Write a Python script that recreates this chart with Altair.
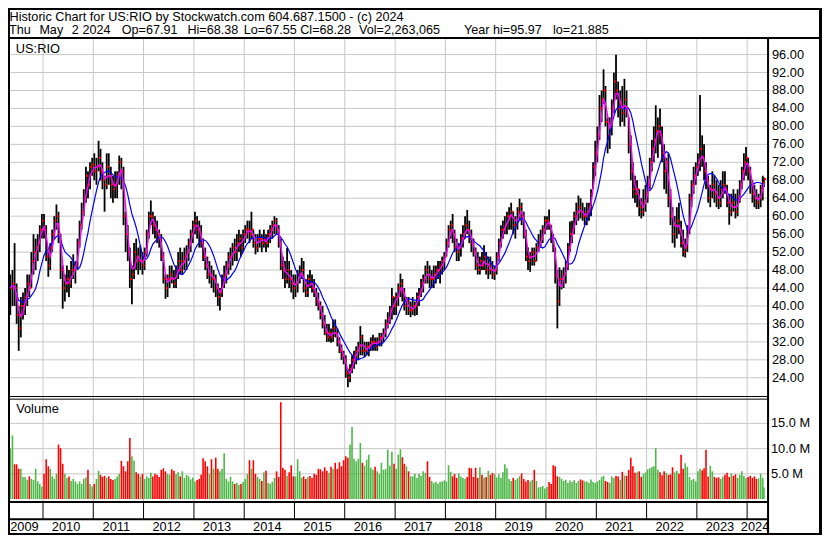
import altair as alt
import pandas as pd

# ---------------- data (semi-monthly bars) ----------------
LOW = [
    # 2009 (May-Dec)
    38, 40, 40, 36, 30, 33, 37, 38, 40, 42, 44, 47, 48, 50, 52, 55,
    # 2010
    55, 50, 46.5, 48, 52, 55, 57, 54, 46, 39.4, 41, 43, 42, 44, 46, 45, 48, 53, 57, 60, 63, 64, 66, 69,
    # 2011
    68, 67, 70, 68, 66, 61, 66, 67, 64, 63, 64, 64, 67, 66, 58, 52, 50, 44, 40.4, 46, 48, 47, 48, 47,
    # 2012
    48, 51, 55, 58, 56, 55, 54, 53, 50, 45, 41.6, 42, 44, 45, 44, 44, 46, 47, 47, 48, 48, 50, 52, 54,
    # 2013
    56, 55, 53, 53, 50, 48, 46, 45, 44, 43, 42, 40, 39, 42, 44, 45, 47, 48, 49, 50, 50, 52, 51, 52,
    # 2014
    54, 55, 54, 55, 53, 51.5, 52, 53, 52, 53, 52, 53, 54, 55, 56, 56, 53, 48, 46, 44, 45, 44, 43, 41.5,
    # 2015
    42, 43, 45, 46, 43, 42, 42, 44, 43, 42, 40, 39, 37, 35, 33.5, 32, 32, 31.8, 32, 33, 31, 29.5, 28, 27,
    # 2016
    24, 21.9, 23, 25, 26, 27, 28, 29, 29, 28.6, 29, 28.8, 30, 30, 30, 30, 31, 31, 32, 33, 35, 36, 37, 38,
    # 2017
    38, 40, 42, 41, 39, 38, 38, 37.5, 38, 37.8, 38, 40, 42, 43, 45, 45, 44, 44, 44, 45, 46, 45, 47, 48,
    # 2018
    51, 53, 55, 54, 52, 50, 50, 51, 53, 55, 56, 54, 52, 51, 48, 47, 47, 48, 48, 47, 46, 47, 46, 45.8,
    # 2019
    47, 50, 53, 55, 56, 56, 57, 57, 56, 55, 57, 59, 58, 55, 50, 48, 47.6, 49, 49, 50, 52, 53, 54, 56,
    # 2020
    57, 57, 54, 52, 45, 35, 40, 43.7, 44, 45, 48, 52, 54, 56, 58, 59, 59.5, 59, 58, 58, 59, 60, 66, 69,
    # 2021
    72, 77, 81, 85, 80, 74, 75, 78, 83, 86, 82, 80, 81, 80, 82, 74, 68, 64, 63, 62, 60, 59.5, 60, 61,
    # 2022
    63, 66, 70, 72, 74, 73, 76, 72, 66, 65, 62, 58, 54, 53, 55, 56, 53, 51, 50.8, 52, 56, 62, 65, 67,
    # 2023
    69, 70, 71, 68, 66, 63, 62, 64, 63, 62, 61.6, 62, 64, 65, 62, 58.1, 60, 61, 59.5, 60, 63, 66, 68, 69,
    # 2024 (Jan - May 2)
    68, 65, 63, 62, 61.6, 61.6, 62, 63.5, 66.5,
]
HIGH = [
    47, 48, 54, 45, 40, 42, 43, 44, 47, 47, 52, 56, 55, 56, 58, 60.5,
    60.5, 58, 53, 54, 57, 60, 62.6, 61, 56, 49, 47, 49, 48, 50, 51.5, 50, 55, 59, 63, 66, 71, 70, 72, 73,
    74, 73, 76.8, 75, 72, 69, 74, 74, 71, 69, 70, 70, 73.5, 73, 71, 61, 58, 53, 49, 54, 55, 53, 53.5, 52,
    53, 57, 61, 63.5, 61, 60, 59, 57, 56, 52, 47, 47, 49, 49, 48, 49, 52, 53, 52, 53, 53.5, 55, 57, 59,
    61, 60, 59, 58, 55, 53, 51, 50, 49, 48, 47, 45, 44, 47, 49, 50, 52, 53, 54, 55, 56, 57, 56, 57,
    58, 59, 59, 61, 57, 56, 56, 57, 56, 57, 56, 57, 58, 59, 60, 59.6, 58, 55, 51, 50, 52.9, 50, 48, 47,
    47, 48, 49, 50.7, 50, 46, 47, 48, 47, 46, 44, 43, 41, 40, 38, 36, 36, 35, 37, 37, 35, 33, 31.4, 30,
    29, 26, 27, 29, 30, 31, 32, 35.5, 33.6, 32, 32, 32, 33, 33.6, 33, 33, 34, 34, 35, 37, 38.6, 40, 44, 42,
    43, 45, 47.2, 46, 44, 42, 42, 41, 42, 41, 43, 44, 46, 47, 49, 50, 49, 48, 49, 49, 50, 50, 51, 52,
    55, 58, 59, 60.5, 57, 55, 54, 56, 58, 60, 61.4, 59, 57, 55, 53, 52, 51, 52, 53.5, 52, 51, 51, 50, 49,
    52, 55, 58, 59, 60, 61, 62, 63, 61, 60, 62, 63.9, 63, 61, 57, 53, 52, 53, 53, 54, 56, 57, 58, 60,
    60, 61.5, 58, 56, 53, 48, 48.6, 48, 48.6, 50, 54, 58.8, 59, 61, 63, 64.6, 64, 63, 62, 63, 63, 66, 72, 76.8,
    80, 87, 88, 92.7, 89, 82, 82, 86, 92, 95.97, 90, 88, 89, 90.6, 88, 82, 78, 72, 69, 68, 66, 64, 66, 67,
    69, 73, 77, 80, 84.7, 82, 84, 80, 76, 73, 74, 66, 62, 60, 62, 63, 59, 57, 55, 58, 65, 68, 71, 72,
    74, 87, 78, 76, 72, 69, 67, 70, 69, 68, 67, 68, 70, 70, 67, 65, 65, 66, 65, 66, 68, 71, 74, 75.4,
    73, 71, 68, 67, 66, 65, 67, 69, 68.6,
]
CLOSE = [
    44, 45, 44, 38, 35, 40, 40, 42, 45, 44, 50, 52, 53, 54, 57, 59,
    57, 51, 49, 53, 56, 59, 60, 56, 48, 44, 45, 46, 45, 48, 48, 49, 54, 58, 61, 64, 69, 67, 71, 71.5,
    70, 71, 73, 70, 68, 67, 71, 69, 67, 66, 67, 69, 72, 70, 60, 56, 52, 46, 47, 52, 51, 50, 50, 49,
    52, 56, 60, 60, 58, 57, 56, 55, 51, 46, 44, 46, 47, 46, 45, 48, 50, 48, 50, 51, 52, 54, 56, 58,
    59, 57, 56, 54, 51, 49, 47, 47, 46, 46, 44, 42, 43, 46, 47, 49, 51, 51, 53, 52, 54, 55, 53, 56,
    57, 57, 56, 57, 54, 53, 55, 55, 54, 55, 54, 56, 57, 58, 59, 57, 54, 49, 48, 46, 48, 46, 45, 44,
    45, 47, 47, 48, 44, 43, 46, 45, 44, 43, 41, 40, 38, 36, 34, 33, 34, 33, 35, 34, 32, 30, 29, 28,
    25, 24, 26, 28, 29, 30, 31, 33, 30, 30, 31, 31, 32, 32, 31, 32, 33, 33, 34, 36, 37, 39, 42, 40,
    42, 44, 45, 43, 40, 41, 39, 39, 40, 40, 42, 43, 45, 46, 48, 47, 46, 46, 47, 48, 48, 49, 50, 51,
    54, 57, 58, 56, 53, 52, 53, 55, 56, 58, 57, 55, 54, 52, 49, 48, 50, 49, 51, 48, 49, 48, 47, 48,
    51, 54, 57, 57, 58, 60, 60, 61, 58, 58, 61, 62, 60, 56, 51, 50, 51, 52, 50, 53, 54, 55, 57, 59,
    59, 58, 55, 53, 47, 41, 46, 46, 47, 49, 53, 56, 57, 60, 61, 62, 61, 60, 60, 61, 62, 65, 71, 74,
    78, 84, 86, 88, 81, 78, 80, 84, 90, 88, 84, 85, 83, 86, 84, 76, 70, 66, 65, 66, 62, 61, 63, 65,
    67, 72, 75, 77, 79, 80, 78, 74, 70, 72, 64, 60, 56, 58, 59, 57, 54, 52, 53, 57, 64, 67, 69, 71,
    72, 75, 73, 70, 68, 64, 66, 67, 65, 64, 63, 66, 67, 66, 63, 61, 63, 62, 61, 64, 67, 70, 72, 73,
    70, 67, 65, 64, 63, 64, 66, 67.5, 68.28,
]
VOLUME_M = [
    10, 12.6, 6.9, 6.9, 6, 6, 4.4, 4.4, 3.8, 4.5, 4, 3.8, 6, 3.5, 3, 2.5,
    5, 7.9, 6.5, 6, 4.5, 4, 5, 10.8, 10.1, 7, 5, 4.2, 4.5, 3.6, 4, 3.5, 3, 3.5, 3, 4, 4.3, 5.8, 3, 2.5,
    3, 4, 5.6, 4.8, 4.4, 4.6, 4.2, 4.5, 4, 3.8, 4, 4.5, 5, 7.6, 6.5, 5.5, 7.5, 12.1, 8.5, 7.6, 5.3, 5, 4.5, 5,
    4, 4.5, 4.2, 5.2, 4.5, 5, 4.8, 4.4, 5.8, 6.1, 5.5, 5, 4.8, 5.9, 5.6, 4.9, 5.3, 4.5, 5.5, 4.2, 4.8, 4.5, 3.9, 4.3,
    3.5, 3.8, 4, 4.8, 8.1, 7.5, 6.5, 5, 7.9, 6, 8.2, 6, 5.5, 6, 9.1, 4, 3.5, 4.4, 3.5, 3, 3.2, 2.8, 3, 3.4,
    4, 5, 7.7, 6, 7.7, 5, 4.4, 4, 3.6, 5.3, 5.6, 3.2, 3, 3.4, 4.2, 5.5, 4.4, 19.2, 6.2, 5.8, 4.6, 5.3, 6.7, 4.5,
    4.5, 7.9, 5.5, 4.2, 4.5, 4, 4.4, 4.6, 4.2, 5, 4.8, 6, 5.9, 5.5, 6.3, 5.6, 5.2, 6.4, 6, 7.2, 6, 7.3, 6.5, 7.7,
    8.5, 8.2, 10.8, 14.3, 8, 7.5, 8, 11.1, 7.2, 6.6, 7.8, 8.8, 6.2, 5.8, 6.4, 5.5, 5, 7.2, 5.8, 6, 9.8, 6.6, 9.4, 7,
    6, 8.8, 9.9, 8.3, 7, 6.5, 5.5, 4.5, 4.5, 5, 4.2, 5, 4.6, 5.5, 5.2, 7.5, 4.4, 3.6, 3.2, 3.4, 3, 3.4, 3.5, 3.7,
    3.5, 6.7, 5.4, 4.5, 5, 4.2, 5.1, 4.5, 4.2, 4, 4.4, 6.2, 6.1, 4.4, 6.2, 4.2, 6.3, 4.8, 4.2, 4.4, 5.6, 4.8, 5.2, 5,
    4.3, 4.9, 4.2, 5.3, 6.9, 6.1, 4, 3.6, 4.2, 3.8, 4.1, 4.5, 5.1, 4, 3.5, 3.8, 3.5, 3.8, 5.8, 3.6, 2.3, 2.4, 2.6, 2.1,
    2.4, 3.4, 3, 6.7, 6.5, 4.5, 4.4, 4, 3.6, 3.8, 3.2, 3.7, 3.4, 3.8, 3.2, 3.6, 3.9, 3.7, 3.5, 3.5, 3.2, 3.9, 3.4, 3.2,
    3.5, 3.8, 4.4, 4.6, 3.6, 3.4, 3.2, 4.5, 4.2, 4.6, 4.5, 3.8, 5.4, 4.7, 4.6, 5.8, 8.2, 6.5, 5.2, 5.3, 5.5, 4.4, 5, 5.3,
    5.9, 6.1, 6.3, 6.5, 10.1, 5.8, 5.3, 4.7, 5.5, 5.2, 4.8, 4.9, 6.3, 5.3, 5.6, 5, 8.8, 6, 7.1, 6.4, 4.4, 3.8, 4, 3.5,
    5.5, 6, 5.7, 6.1, 9.8, 4.5, 6.6, 5.5, 4.4, 4.2, 4.3, 4, 4.5, 4.8, 5.2, 4.4, 5.1, 4.6, 4.9, 4.2, 4.8, 5.5, 4.6, 4.2,
    4.4, 4.6, 4.2, 4.5, 4, 4.1, 5, 4.2, 2.3,
]

PRICE_TICKS = [24, 28, 32, 36, 40, 44, 48, 52, 56, 60, 64, 68, 72, 76, 80, 84, 88, 92, 96]
VOLUME_TICKS = [5, 10, 15]
YEARS = list(range(2009, 2025))

TITLE_LINE1 = "Historic Chart for US:RIO by Stockwatch.com 604.687.1500 - (c) 2024"
TITLE_LINE2 = ["Thu", "May", "2", "2024", "Op=67.91", "Hi=68.38", "Lo=67.55",
               "Cl=68.28", "Vol=2,263,065", "Year hi=95.97", "lo=21.885"]
SYMBOL = "US:RIO"
VOLUME_LABEL = "Volume"

# ---------------- periods (semi-monthly, 2009-05 .. 2024-05-02) ----------------
starts = []
for y in range(2009, 2025):
    for m in range(1, 13):
        if y == 2009 and m < 5:
            continue
        for d in (1, 16):
            if y == 2024 and (m > 5 or (m == 5 and d == 16)):
                continue
            starts.append(pd.Timestamp(year=y, month=m, day=d))
ends = starts[1:] + [pd.Timestamp("2024-05-03")]
mids = [s + (e - s) / 2 for s, e in zip(starts, ends)]

df = pd.DataFrame({
    "i": list(range(len(starts))),
    "mid": [m.strftime("%Y-%m-%dT%H:%M:%SZ") for m in mids],
    "low": LOW, "high": HIGH, "close": CLOSE, "vol": VOLUME_M,
})

# ---------------- layout (reference pixels scaled to the 814x527 canvas) ----------------
W, H = 814, 527
S = W / 830.0
T = H / 543.0
FONT = "Liberation Sans"
GRID = "#c8c8c8"
GREEN = "#4db848"
RED = "#ff0000"

def ms(d):
    return int(pd.Timestamp(d).value // 10**6)

D0, D1 = "2009-05-06", "2024-05-25"
XS = alt.Scale(domain=[ms(D0), ms(D1)], range=[2 * S, 774 * S], padding=0, nice=False)
PY = alt.Scale(domain=[20, 96], range=[399.5 * T, 48 * T], nice=False, zero=False)
VY = alt.Scale(domain=[0, 20], range=[506 * T, 402 * T], nice=False, zero=False)

ONE = pd.DataFrame({"k": [0]})
layers = []

# grid lines
layers.append(alt.Chart(pd.DataFrame({"p": PRICE_TICKS})).mark_rule(color=GRID, strokeWidth=1).encode(
    y=alt.Y("p:Q", scale=PY, axis=None), x=alt.value(2 * S), x2=alt.value(774 * S)))
layers.append(alt.Chart(pd.DataFrame({"v": VOLUME_TICKS})).mark_rule(color=GRID, strokeWidth=1).encode(
    y=alt.Y("v:Q", scale=VY, axis=None), x=alt.value(2 * S), x2=alt.value(774 * S)))
year_starts = pd.DataFrame({"d": [f"{y}-01-01" for y in YEARS[1:]]})
layers.append(alt.Chart(year_starts).mark_rule(color=GRID, strokeWidth=1).encode(
    x=alt.X("d:T", scale=XS, axis=None), y=alt.value(32 * T), y2=alt.value(508 * T)))

# volume bars, coloured by close vs previous close
layers.append(
    alt.Chart(df)
    .transform_window(prev="lag(close)", sort=[alt.SortField("i")])
    .transform_calculate(dir="datum.prev == null || datum.close >= datum.prev ? 'up' : 'down'")
    .mark_bar(strokeWidth=0, size=1.6)
    .encode(
        x=alt.X("mid:T", scale=XS, axis=None),
        y=alt.Y("vol:Q", scale=VY, axis=None), y2=alt.datum(0),
        color=alt.Color("dir:N", scale=alt.Scale(domain=["up", "down"], range=[GREEN, RED]), legend=None),
    )
)

# price range bars
layers.append(alt.Chart(df).mark_rule(color="black", strokeWidth=1.8, strokeCap="butt").encode(
    x=alt.X("mid:T", scale=XS, axis=None),
    y=alt.Y("low:Q", scale=PY, axis=None), y2="high:Q"))
# close marks
layers.append(alt.Chart(df).mark_square(color=RED, size=4, opacity=1, xOffset=1.2).encode(
    x=alt.X("mid:T", scale=XS, axis=None), y=alt.Y("close:Q", scale=PY, axis=None)))
# moving averages
layers.append(
    alt.Chart(df).transform_window(ma_slow="mean(close)", frame=[-9, 0], sort=[alt.SortField("i")])
    .mark_line(color="#0000ff", strokeWidth=1.2)
    .encode(x=alt.X("mid:T", scale=XS, axis=None), y=alt.Y("ma_slow:Q", scale=PY, axis=None)))
layers.append(
    alt.Chart(df).transform_window(ma_fast="mean(close)", frame=[-2, 0], sort=[alt.SortField("i")])
    .mark_line(color="#ff00ff", strokeWidth=1.4)
    .encode(x=alt.X("mid:T", scale=XS, axis=None), y=alt.Y("ma_fast:Q", scale=PY, axis=None)))

# axis labels
layers.append(alt.Chart(pd.DataFrame({"p": PRICE_TICKS, "lab": [f"{p:.2f}" for p in PRICE_TICKS]}))
              .mark_text(align="left", baseline="middle", font=FONT, fontSize=12.8, color="black")
              .encode(y=alt.Y("p:Q", scale=PY, axis=None), x=alt.value(779 * S), text="lab:N"))
layers.append(alt.Chart(pd.DataFrame({"v": VOLUME_TICKS, "lab": [f"{v:.1f} M" for v in VOLUME_TICKS]}))
              .mark_text(align="left", baseline="middle", font=FONT, fontSize=12.8, color="black")
              .encode(y=alt.Y("v:Q", scale=VY, axis=None), x=alt.value(778 * S), text="lab:N"))

def mid_date(a, b):
    a, b = pd.Timestamp(a), pd.Timestamp(b)
    return (a + (b - a) / 2).strftime("%Y-%m-%d")

year_mid = [mid_date(max(pd.Timestamp(f"{y}-01-01"), pd.Timestamp(D0)),
                     min(pd.Timestamp(f"{y + 1}-01-01"), pd.Timestamp(D1))) for y in YEARS]
layers.append(alt.Chart(pd.DataFrame({"d": year_mid, "lab": [str(y) for y in YEARS]}))
              .mark_text(align="center", baseline="middle", font=FONT, fontSize=12.8, color="black", dx=-2)
              .encode(x=alt.X("d:T", scale=XS, axis=None), y=alt.value(534.5 * T), text="lab:N"))

# year separators in the date band
layers.append(alt.Chart(year_starts).mark_rule(color="black", strokeWidth=1).encode(
    x=alt.X("d:T", scale=XS, axis=None), y=alt.value(509 * T), y2=alt.value(526.5 * T)))

# texts
def txt(s, x, y, size=12.8):
    return alt.Chart(ONE).mark_text(align="left", baseline="alphabetic", font=FONT,
                                    fontSize=size, color="black").encode(
        x=alt.value(x), y=alt.value(y), text=alt.value(s))

layers.append(txt(TITLE_LINE1, 1.5 * S, 13 * T, 12.7))
LINE2_X = [1, 32, 65, 76, 116, 183, 240.5, 298, 358, 465, 555.7]
for s, x in zip(TITLE_LINE2, LINE2_X):
    layers.append(txt(s, x * S, 27 * T, 12.6))
layers.append(txt(SYMBOL, 8 * S, 46.5 * T))
layers.append(txt(VOLUME_LABEL, 8.3 * S, 417.5 * T))

# frame lines
def hline(y, x1, x2, w):
    return alt.Chart(ONE).mark_rule(color="black", strokeWidth=w).encode(
        y=alt.value(y), x=alt.value(x1), x2=alt.value(x2))

def vline(x, y1, y2, w):
    return alt.Chart(ONE).mark_rule(color="black", strokeWidth=w).encode(
        x=alt.value(x), y=alt.value(y1), y2=alt.value(y2))

PR = 775 * S
layers += [
    hline(31 * T, 0, W, 2),
    vline(PR, 31 * T, H, 2),
    hline(400.3 * T, 0, PR, 1),
    hline(403.0 * T, 0, PR, 1),
    hline(509 * T, 0, PR, 2),
    hline(526.7 * T, 0, PR, 2),
    hline(1, 0, W, 2),
    hline(H - 1, 0, W, 2),
    vline(1, 0, H, 2),
    vline(W - 1.5, 0, H, 3),
]

chart = (
    alt.layer(*layers)
    .resolve_scale(y="independent", color="independent")
    .properties(width=W, height=H, padding=0, background="white",
                autosize=alt.AutoSizeParams(type="none"))
    .configure_view(strokeWidth=0)
)

chart.save("out.html", embed_options={"renderer": "svg", "actions": False})
